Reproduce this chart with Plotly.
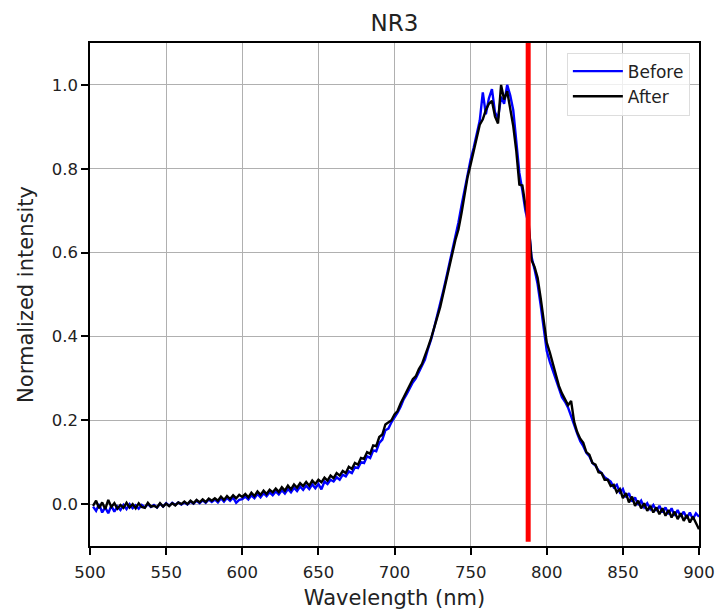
import plotly.graph_objects as go

wavelength = list(range(502, 901, 2))

before = [
    -0.006, -0.016, 0.000, -0.020, -0.008, -0.022, -0.004, -0.018, -0.006, -0.014,
    -0.002, -0.012, 0.000, -0.010, -0.003, -0.011, -0.002, -0.008, 0.000, -0.007,
    -0.002, -0.008, 0.001, -0.006, 0.002, -0.004, 0.003, -0.002, 0.004, -0.001,
    0.004, -0.001, 0.006, 0.001, 0.008, 0.002, 0.009, 0.003, 0.011, 0.005,
    0.011, 0.004, 0.014, 0.006, 0.015, 0.008, 0.016, 0.003, 0.010, 0.012,
    0.018, 0.011, 0.021, 0.014, 0.024, 0.016, 0.026, 0.019, 0.028, 0.021,
    0.030, 0.023, 0.033, 0.025, 0.036, 0.028, 0.039, 0.031, 0.042, 0.034,
    0.044, 0.036, 0.047, 0.038, 0.048, 0.035, 0.054, 0.048, 0.058, 0.054,
    0.064, 0.058, 0.070, 0.066, 0.078, 0.074, 0.088, 0.086, 0.100, 0.098,
    0.114, 0.110, 0.128, 0.126, 0.146, 0.154, 0.176, 0.180, 0.195, 0.205,
    0.218, 0.232, 0.250, 0.262, 0.278, 0.290, 0.300, 0.314, 0.330, 0.345,
    0.370, 0.392, 0.420, 0.448, 0.476, 0.508, 0.540, 0.572, 0.605, 0.640,
    0.672, 0.712, 0.750, 0.792, 0.822, 0.850, 0.885, 0.915, 0.982, 0.930,
    0.968, 0.990, 0.935, 0.920, 0.972, 0.955, 1.000, 0.975, 0.940, 0.870,
    0.790, 0.748, 0.700, 0.668, 0.590, 0.560, 0.525, 0.475, 0.415, 0.365,
    0.340, 0.318, 0.295, 0.272, 0.255, 0.244, 0.230, 0.210, 0.188, 0.168,
    0.150, 0.138, 0.122, 0.114, 0.098, 0.092, 0.080, 0.074, 0.064, 0.060,
    0.054, 0.040, 0.046, 0.028, 0.036, 0.016, 0.026, 0.006, 0.016, -0.002,
    0.008, -0.008, 0.002, -0.012, -0.002, -0.016, -0.004, -0.020, -0.008, -0.024,
    -0.010, -0.028, -0.014, -0.030, -0.018, -0.034, -0.020, -0.036, -0.022, -0.030,
]

after = [
    -0.004, 0.008, -0.010, 0.004, -0.012, 0.010, -0.007, 0.002, -0.011, -0.002,
    -0.009, 0.003, -0.008, 0.000, -0.010, 0.002, -0.007, -0.009, 0.003, -0.006,
    -0.004, -0.008, 0.002, -0.006, 0.001, -0.005, 0.002, -0.003, 0.004, 0.000,
    0.006, 0.000, 0.008, 0.002, 0.010, 0.004, 0.011, 0.005, 0.013, 0.008,
    0.014, 0.008, 0.018, 0.010, 0.019, 0.012, 0.021, 0.014, 0.022, 0.017,
    0.024, 0.016, 0.027, 0.019, 0.030, 0.022, 0.032, 0.024, 0.034, 0.028,
    0.037, 0.029, 0.040, 0.032, 0.044, 0.035, 0.047, 0.039, 0.050, 0.043,
    0.053, 0.044, 0.056, 0.048, 0.058, 0.052, 0.063, 0.056, 0.068, 0.062,
    0.074, 0.068, 0.079, 0.074, 0.089, 0.084, 0.098, 0.094, 0.110, 0.108,
    0.124, 0.120, 0.140, 0.138, 0.160, 0.166, 0.190, 0.196, 0.200, 0.214,
    0.222, 0.240, 0.255, 0.270, 0.282, 0.298, 0.305, 0.322, 0.334, 0.352,
    0.374, 0.395, 0.418, 0.445, 0.470, 0.504, 0.532, 0.567, 0.598, 0.630,
    0.655, 0.694, 0.738, 0.780, 0.810, 0.842, 0.877, 0.905, 0.918, 0.940,
    0.955, 0.962, 0.925, 0.908, 1.000, 0.965, 0.985, 0.948, 0.902, 0.842,
    0.762, 0.760, 0.712, 0.676, 0.582, 0.566, 0.540, 0.492, 0.440, 0.385,
    0.362, 0.336, 0.312, 0.282, 0.264, 0.250, 0.236, 0.246, 0.196, 0.172,
    0.156, 0.146, 0.124, 0.118, 0.098, 0.094, 0.076, 0.074, 0.058, 0.058,
    0.043, 0.046, 0.028, 0.036, 0.014, 0.026, 0.004, 0.018, -0.004, 0.008,
    -0.010, 0.002, -0.016, -0.004, -0.020, -0.008, -0.024, -0.010, -0.028, -0.014,
    -0.032, -0.018, -0.036, -0.022, -0.040, -0.026, -0.044, -0.030, -0.046, -0.060,
]

marker_x = [787.8, 787.8]
marker_y = [-0.09, 1.2]

x_ticks = [500, 550, 600, 650, 700, 750, 800, 850, 900]
y_ticks = [0.0, 0.2, 0.4, 0.6, 0.8, 1.0]

font_family = "DejaVu Sans, Arial, sans-serif"

fig = go.Figure()
fig.add_trace(go.Scatter(x=wavelength, y=before, mode="lines", name="Before",
                         legendgroup="b", line=dict(color="#0000ff", width=2.4)))
fig.add_trace(go.Scatter(x=wavelength, y=after, mode="lines", name="After",
                         legendgroup="a", line=dict(color="#000000", width=2.4)))
fig.add_trace(go.Scatter(x=marker_x, y=marker_y, mode="lines", showlegend=False,
                         line=dict(color="#ff0000", width=5)))

axis_common = dict(
    showline=True, linecolor="black", linewidth=1.6, mirror=True,
    ticks="outside", ticklen=7, tickwidth=2, tickcolor="black",
    showgrid=True, gridcolor="#b0b0b0", gridwidth=1, automargin=False,
    zeroline=False, tickfont=dict(family=font_family, size=16.5, color="#222222"),
)

fig.update_xaxes(range=[500, 900], tickvals=x_ticks, ticklabelstandoff=3,
                 title=dict(text="Wavelength (nm)", font=dict(family=font_family, size=21, color="#222222"), standoff=10),
                 **axis_common)
fig.update_yaxes(range=[-0.1, 1.1], tickvals=y_ticks, tickformat=".1f",
                 title=dict(text="Normalized intensity", font=dict(family=font_family, size=21, color="#222222"), standoff=12),
                 **axis_common)

fig.update_layout(
    width=719, height=614,
    margin=dict(l=90, r=20, t=43, b=68),
    paper_bgcolor="white", plot_bgcolor="white",
    title=dict(text="NR3", x=0.5, xref="paper", xanchor="center", y=0.963, yanchor="middle",
               font=dict(family=font_family, size=23, color="#222222")),
    legend=dict(x=0.985, y=0.981, xanchor="right", yanchor="top",
                traceorder="grouped", tracegroupgap=0, itemwidth=50,
                bgcolor="rgba(255,255,255,0.8)", bordercolor="#dddddd", borderwidth=1,
                font=dict(family=font_family, size=17, color="#222222")),
    font=dict(family=font_family),
)

fig.write_html("out.html", config={"displayModeBar": False},
               post_script="document.body.style.margin='0px';")
